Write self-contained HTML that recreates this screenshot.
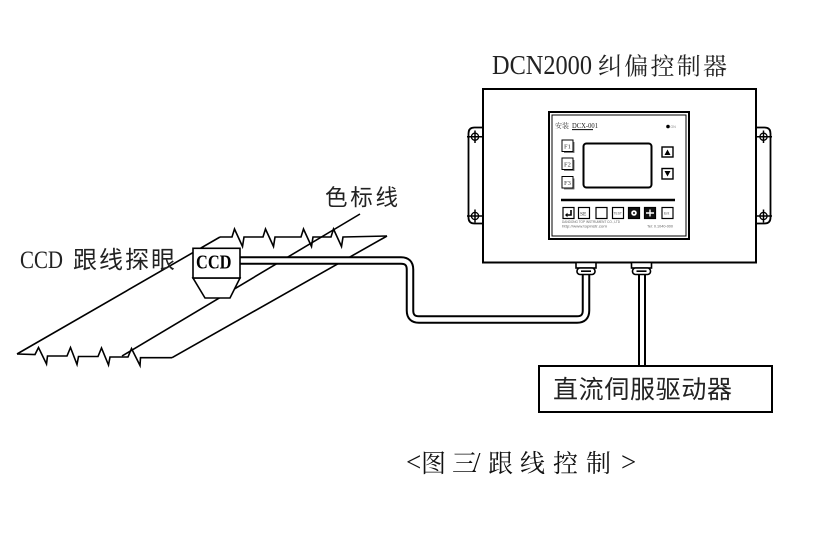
<!DOCTYPE html>
<html><head><meta charset="utf-8"><style>
html,body{margin:0;padding:0;background:#fff;}
svg{display:block;}
</style></head><body>
<svg width="823" height="545" viewBox="0 0 823 545" xmlns="http://www.w3.org/2000/svg">
<defs>
<linearGradient id="cy" x1="0" y1="0" x2="0" y2="1">
<stop offset="0" stop-color="#7ff7d4" stop-opacity="0.35"/>
<stop offset="0.3" stop-color="#4ff0c0" stop-opacity="0.8"/>
<stop offset="1" stop-color="#20eeb0" stop-opacity="1"/>
</linearGradient>
</defs>

<!-- Title -->
<text x="492" y="74" font-family="'Liberation Serif','Noto Serif CJK SC',serif" font-size="27" fill="#222" textLength="100" lengthAdjust="spacingAndGlyphs">DCN2000</text>
<text x="598" y="74.5" font-family="'Liberation Serif','Noto Serif CJK SC',serif" font-size="24" fill="#222" textLength="129" lengthAdjust="spacing">纠偏控制器</text>

<!-- Belt / web -->
<g fill="none" stroke="#000" stroke-width="1.6" stroke-linejoin="miter">
<path d="M17,354 L35,354.5 L38.5,347.5 L46.5,364 L47.5,356 L67,356 L70.5,347.5 L77,364.5 L78.5,356.5 L98,356.5 L101.5,348 L108.5,365 L110,357 L128,357 L131.5,348.5 L140,365.5 L140.5,357.7 L172,357.7"/>
<path d="M172,357.7 L387,236"/>
<path d="M220,237 L232,237 L234.5,229 L242.5,246.5 L244,237 L263,237 L265.5,229 L273.5,246.5 L275,237 L301,237 L303.5,229 L311.5,246.5 L313,237 L331,237 L333.5,229 L341.5,246.5 L343,237 L387,236"/>
<path d="M17,354 L220,237"/>
<path d="M122,356 L360,214"/>
</g>

<!-- Labels left -->
<text x="20" y="268" font-family="'Liberation Serif',serif" font-size="25" fill="#222" textLength="43" lengthAdjust="spacingAndGlyphs">CCD</text>
<text x="73" y="268" font-family="'Liberation Sans','Noto Sans CJK SC',sans-serif" font-size="24" fill="#222" textLength="102" lengthAdjust="spacing">跟线探眼</text>
<text x="325" y="205.5" font-family="'Liberation Sans','Noto Sans CJK SC',sans-serif" font-size="22.5" fill="#222" textLength="73" lengthAdjust="spacing">色标线</text>

<!-- Cable from CCD to controller -->
<path d="M238,260.5 H401 Q410,260.5 410,269.5 V310.5 Q410,319.5 419,319.5 H577 Q586,319.5 586,310.5 V272" fill="none" stroke="#000" stroke-width="8.5"/>
<path d="M238,260.5 H401 Q410,260.5 410,269.5 V310.5 Q410,319.5 419,319.5 H577 Q586,319.5 586,310.5 V272" fill="none" stroke="#fff" stroke-width="4.5"/>

<!-- Cable to driver -->
<path d="M642,272 V366" fill="none" stroke="#000" stroke-width="8"/>
<path d="M642,272 V366" fill="none" stroke="#fff" stroke-width="4"/>

<!-- CCD sensor -->
<g stroke="#000" stroke-width="1.6" fill="#fff">
<polygon points="193,278 240,278 230,298 205,298"/>
<rect x="193" y="248.3" width="47" height="29.7"/>
</g>
<text x="196" y="268.5" font-family="'Liberation Serif',serif" font-weight="bold" font-size="20" fill="#000" textLength="35.5" lengthAdjust="spacingAndGlyphs">CCD</text>

<!-- Brackets -->
<g fill="none" stroke="#000" stroke-width="1.8">
<path d="M483,127.5 H474.5 Q468.5,127.5 468.5,133.5 V217.5 Q468.5,223.5 474.5,223.5 H483"/>
<path d="M756,127.5 H764.5 Q770.5,127.5 770.5,133.5 V217.5 Q770.5,223.5 764.5,223.5 H756"/>
</g>
<g fill="#fff" stroke="#000" stroke-width="1.3">
<circle cx="475" cy="136.7" r="3.6"/>
<circle cx="475" cy="216" r="3.6"/>
<circle cx="763.5" cy="136.7" r="3.6"/>
<circle cx="763.5" cy="216" r="3.6"/>
</g>
<g stroke="#000" stroke-width="1.5">
<path d="M467,136.7 H484 M475,130.5 V143"/>
<path d="M467,216 H484 M475,209.5 V222.5"/>
<path d="M755,136.7 H772 M763.5,130.5 V143"/>
<path d="M755,216 H772 M763.5,209.5 V222.5"/>
</g>

<!-- Main controller box -->
<rect x="483" y="89" width="273" height="173.5" fill="#fff" stroke="#000" stroke-width="2"/>

<!-- Connectors -->
<g stroke="#000" stroke-width="1.6" fill="#fff">
<rect x="576" y="262.5" width="20" height="5.5"/>
<rect x="577" y="268" width="18" height="6.5" rx="3"/>
<rect x="631.5" y="262.5" width="20" height="5.5"/>
<rect x="632.5" y="268" width="18" height="6.5" rx="3"/>
</g>
<g stroke="#000" stroke-width="1.6">
<path d="M581,271.2 H591 M636.5,271.2 H646.5"/>
</g>

<!-- Panel -->
<rect x="549" y="112" width="140" height="127" fill="#fff" stroke="#000" stroke-width="2"/>
<rect x="552" y="115" width="134" height="121" fill="none" stroke="#000" stroke-width="1"/>
<text x="555" y="128" font-family="'Liberation Serif','Noto Serif CJK SC',serif" font-size="7" fill="#444">安装</text>
<text x="572" y="128" font-family="'Liberation Serif',serif" font-size="7.5" fill="#222" textLength="26" lengthAdjust="spacingAndGlyphs">DCX-001</text>
<line x1="572" y1="129.6" x2="593" y2="129.6" stroke="#000" stroke-width="1"/>
<circle cx="668" cy="126.5" r="1.8" fill="#000"/>
<text x="670.5" y="128" font-family="'Liberation Sans',sans-serif" font-size="3.5" fill="#888">ON</text>

<!-- F buttons -->
<g fill="#fff" stroke="#000" stroke-width="1">
<rect x="562" y="140" width="11" height="11.5"/>
<rect x="562" y="158" width="11" height="11.5"/>
<rect x="562" y="176.5" width="11" height="11.5"/>
</g>
<g stroke="#555" stroke-width="0.8" fill="none">
<path d="M564,152.5 H574 V142"/>
<path d="M564,170.5 H574 V160"/>
<path d="M564,189 H574 V178.5"/>
</g>
<g font-family="'Liberation Serif',serif" font-size="6.5" fill="#333">
<text x="564" y="148.5">F1</text>
<text x="564" y="166.5">F2</text>
<text x="564" y="185">F3</text>
</g>

<!-- Display -->
<rect x="583.5" y="143.5" width="68" height="44" rx="3" fill="#fff" stroke="#000" stroke-width="2"/>

<!-- Arrow buttons -->
<g fill="#fff" stroke="#000" stroke-width="1.4">
<rect x="662" y="147" width="11" height="10"/>
<rect x="662" y="168.5" width="11" height="10.5"/>
</g>
<polygon points="664.5,155 670.5,155 667.5,149.5" fill="#000"/>
<polygon points="664.5,171 670.5,171 667.5,176.5" fill="#000"/>

<!-- divider -->
<line x1="561" y1="200" x2="675" y2="200" stroke="#000" stroke-width="2.5"/>

<!-- bottom buttons -->
<g fill="#fff" stroke="#000" stroke-width="1.2">
<rect x="563" y="207.5" width="11" height="11"/>
<rect x="578.5" y="207.5" width="11" height="11"/>
<rect x="596" y="207.5" width="11" height="11"/>
<rect x="612.5" y="207.5" width="11" height="11"/>
<rect x="662" y="207.5" width="11" height="11"/>
</g>
<rect x="628.5" y="207.5" width="11" height="11" fill="#111" stroke="#000" stroke-width="1.2"/>
<rect x="644.5" y="207.5" width="11" height="11" fill="#111" stroke="#000" stroke-width="1.2"/>
<path d="M571,210 V215 H566" fill="none" stroke="#000" stroke-width="1.6"/>
<polygon points="565,215 567.5,212.8 567.5,217.2" fill="#000"/>
<text x="580" y="215.5" font-family="'Liberation Serif',serif" font-size="5.5" fill="#333">SE</text>
<text x="613.5" y="214.5" font-family="'Liberation Sans',sans-serif" font-size="3.3" fill="#555">TEST</text>
<circle cx="634" cy="213" r="2.8" fill="#fff"/>
<circle cx="634" cy="213" r="1" fill="#111"/>
<path d="M646,213 H654 M650,209.5 V216.5" stroke="#fff" stroke-width="1.4"/>
<text x="664" y="214.5" font-family="'Liberation Sans',sans-serif" font-size="3.5" fill="#555">Ent</text>

<!-- small footer text -->
<g font-family="'Liberation Sans',sans-serif" fill="#666">
<text x="562" y="223" font-size="3.6" textLength="58" lengthAdjust="spacingAndGlyphs">DANDONG TOP INSTRUMENT CO., LTD</text>
<text x="562" y="227.5" font-size="3.4" textLength="45" lengthAdjust="spacingAndGlyphs">http://www.topinstr.com</text>
<text x="647" y="227.5" font-size="3.4" textLength="26" lengthAdjust="spacingAndGlyphs">Tel: 0.1040-000</text>
</g>

<!-- Driver box -->
<rect x="539" y="366" width="233" height="46" fill="#fff" stroke="#000" stroke-width="2"/>
<text x="553" y="398" font-family="'Liberation Sans','Noto Sans CJK SC',sans-serif" font-size="25" fill="#222" textLength="179" lengthAdjust="spacing">直流伺服驱动器</text>

<!-- Caption -->
<g font-family="'Liberation Serif','Noto Serif CJK SC',serif" font-size="25" fill="#111">
<text x="406" y="471" font-size="27">&lt;</text>
<text x="421" y="472">图</text>
<text x="452" y="472">三</text>
<text x="473" y="471" font-size="27">/</text>
<text x="488" y="472">跟</text>
<text x="520" y="472">线</text>
<text x="553" y="472">控</text>
<text x="586" y="472">制</text>
<text x="621" y="471" font-size="27">&gt;</text>
</g>

<!-- cyan edge line -->
<line x1="821.6" y1="273" x2="821.6" y2="518" stroke="url(#cy)" stroke-width="2"/>
</svg>
</body></html>
